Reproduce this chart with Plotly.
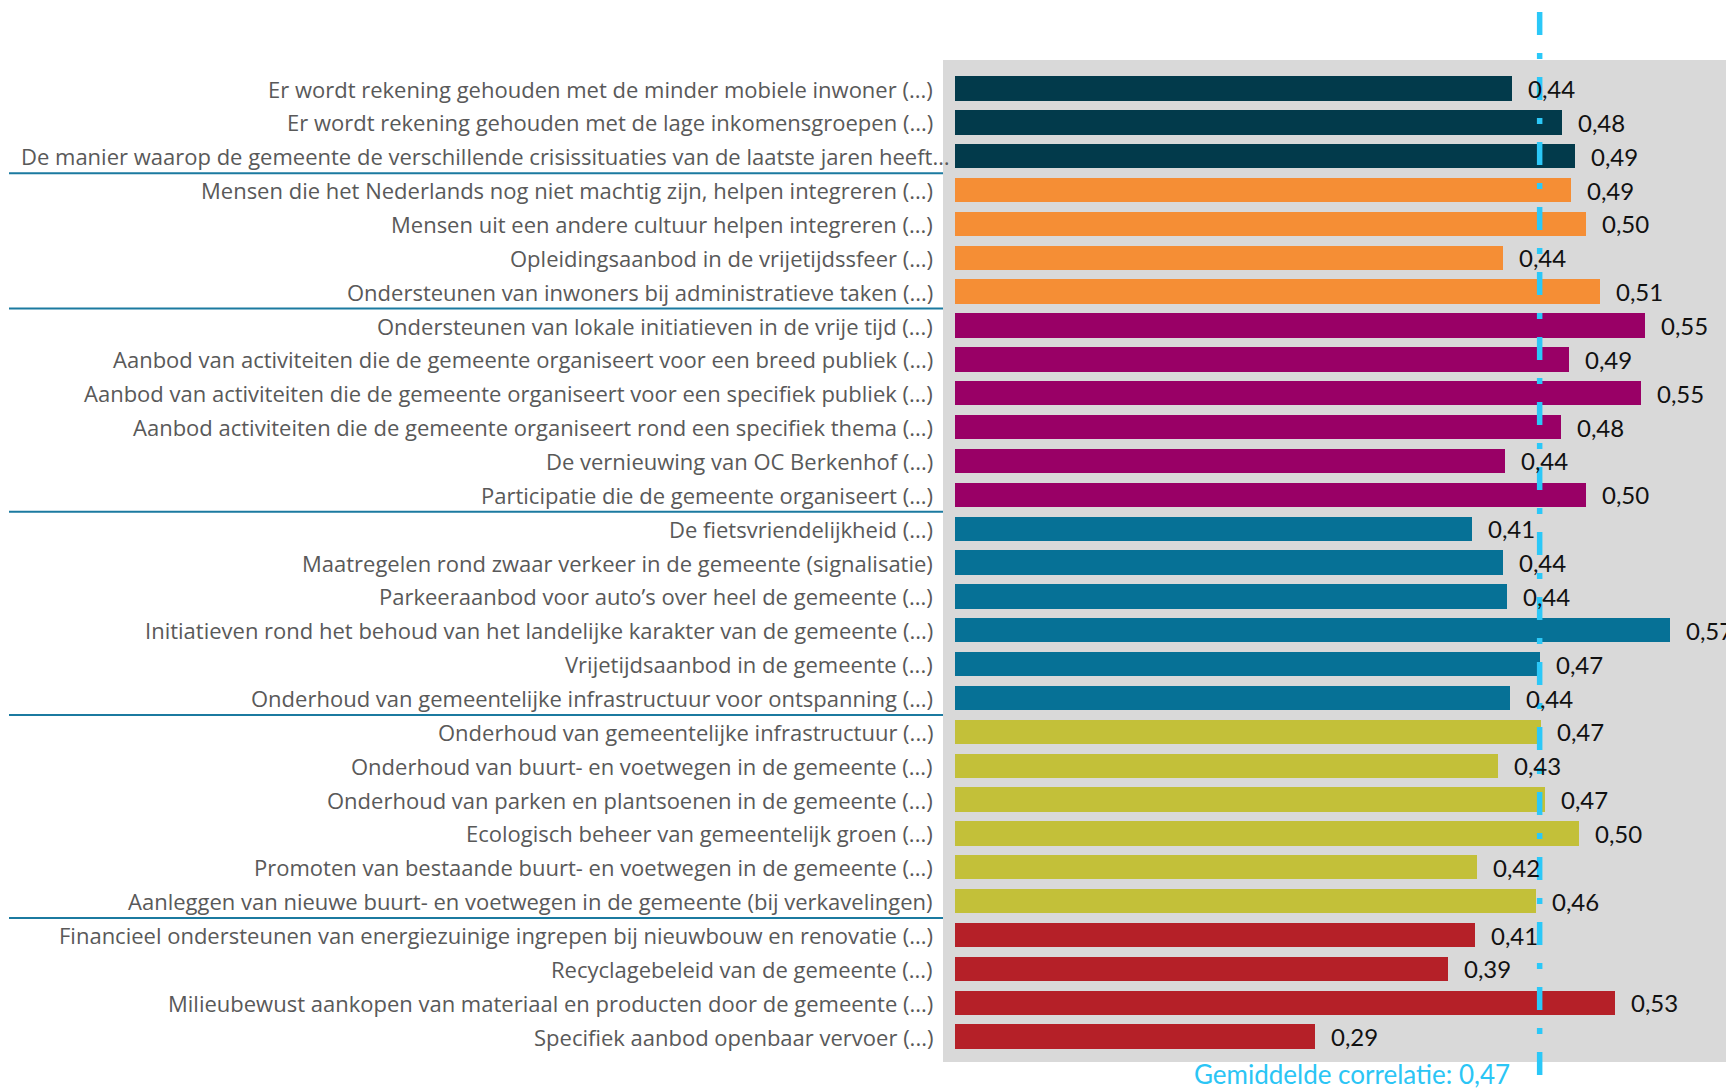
import plotly.graph_objects as go

labels = [
    "Er wordt rekening gehouden met de minder mobiele inwoner (...)",
    "Er wordt rekening gehouden met de lage inkomensgroepen (...)",
    "De manier waarop de gemeente de verschillende crisissituaties van de laatste jaren heeft…",
    "Mensen die het Nederlands nog niet machtig zijn, helpen integreren (...)",
    "Mensen uit een andere cultuur helpen integreren (...)",
    "Opleidingsaanbod in de vrijetijdssfeer (...)",
    "Ondersteunen van inwoners bij administratieve taken (...)",
    "Ondersteunen van lokale initiatieven in de vrije tijd (...)",
    "Aanbod van activiteiten die de gemeente organiseert voor een breed publiek (...)",
    "Aanbod van activiteiten die de gemeente organiseert voor een specifiek publiek (...)",
    "Aanbod activiteiten die de gemeente organiseert rond een specifiek thema (...)",
    "De vernieuwing van OC Berkenhof (...)",
    "Participatie die de gemeente organiseert (...)",
    "De fietsvriendelijkheid (...)",
    "Maatregelen rond zwaar verkeer in de gemeente (signalisatie)",
    "Parkeeraanbod voor auto’s over heel de gemeente (...)",
    "Initiatieven rond het behoud van het landelijke karakter van de gemeente (...)",
    "Vrijetijdsaanbod in de gemeente (...)",
    "Onderhoud van gemeentelijke infrastructuur voor ontspanning (...)",
    "Onderhoud van gemeentelijke infrastructuur (...)",
    "Onderhoud van buurt- en voetwegen in de gemeente (...)",
    "Onderhoud van parken en plantsoenen in de gemeente (...)",
    "Ecologisch beheer van gemeentelijk groen (...)",
    "Promoten van bestaande buurt- en voetwegen in de gemeente (...)",
    "Aanleggen van nieuwe buurt- en voetwegen in de gemeente (bij verkavelingen)",
    "Financieel ondersteunen van energiezuinige ingrepen bij nieuwbouw en renovatie (...)",
    "Recyclagebeleid van de gemeente (...)",
    "Milieubewust aankopen van materiaal en producten door de gemeente (...)",
    "Specifiek aanbod openbaar vervoer (...)",
]
values = [0.444, 0.484, 0.494, 0.491, 0.503, 0.437, 0.514, 0.550, 0.489, 0.547,
          0.483, 0.438, 0.503, 0.412, 0.437, 0.440, 0.570, 0.466, 0.442, 0.467,
          0.433, 0.470, 0.497, 0.416, 0.463, 0.414, 0.393, 0.526, 0.287]
groups = [0, 0, 0, 1, 1, 1, 1, 2, 2, 2, 2, 2, 2, 3, 3, 3, 3, 3, 3, 4, 4, 4, 4, 4, 4,
          5, 5, 5, 5]
group_colors = ["#023a4b", "#f58e35", "#990066", "#067196", "#c3c039", "#b52028"]
average = sum(values) / len(values)
average_label = "Gemiddelde correlatie: " + f"{average:.2f}".replace(".", ",")

OFF = 8  # page body margin
W, H = 1734 - OFF, 1092 - OFF
ML, MR, MT = 943 - OFF, 0, 60 - OFF
plot_bottom = 1062 - OFF
MB = H - plot_bottom
plot_w = W - ML - MR
plot_h = H - MT - MB

n = len(labels)
ypos = list(range(n))
y_top, y_bottom = -0.842, 28.75
SLOPE = 1255.0
x_range = [(943 - 955) / SLOPE, (1734 - 955) / SLOPE]

colors = [group_colors[g] for g in groups]


def py2paper(py):
    return (MT + plot_h - (py - OFF)) / plot_h


def px2paper(px):
    return ((px - OFF) - ML) / plot_w


fig = go.Figure()
fig.add_trace(go.Bar(
    x=values, y=ypos, orientation="h", width=0.72,
    marker=dict(color=colors, line=dict(width=0)),
    hoverinfo="skip",
))

# value labels
for v, y in zip(values, ypos):
    fig.add_annotation(
        x=v, y=y, xref="x", yref="y", text=f"{v:.2f}".replace(".", ","),
        showarrow=False, xanchor="left", yanchor="middle", xshift=14,
        font=dict(family="Lato", size=24, color="#111111"),
    )

# category labels
label_right = px2paper(934.5)
for lab, y in zip(labels, ypos):
    shift = 17 if len(lab) > 85 else 0
    fig.add_annotation(
        x=label_right, y=y, xref="paper", yref="y", text=lab,
        showarrow=False, xanchor="right", yanchor="middle", xshift=shift,
        font=dict(family="Open Sans", size=22, color="#595959"),
    )

# group separators
for i in range(1, n):
    if groups[i] != groups[i - 1]:
        yp = (y_bottom - (i - 0.5)) / (y_bottom - y_top)
        fig.add_shape(type="line", xref="paper", yref="paper",
                      x0=px2paper(9), x1=0, y0=yp, y1=yp,
                      line=dict(color="#1b7aa0", width=2))

# average line
fig.add_shape(type="line", xref="x", yref="paper",
              x0=average, x1=average,
              y0=py2paper(12), y1=py2paper(1100),
              line=dict(color="#2bc8f8", width=5.5, dash="23px,18px,6px,18px"),
              layer="above")

fig.add_annotation(
    x=px2paper(1512), y=py2paper(1074), yref="paper", xref="paper",
    text=average_label, showarrow=False,
    xanchor="right", yanchor="middle",
    font=dict(family="Lato", size=26, color="#2bc5f5"),
)

fig.update_layout(
    width=W, height=H,
    margin=dict(l=ML, r=MR, t=MT, b=MB, pad=0),
    paper_bgcolor="white", plot_bgcolor="#d9d9d9",
    showlegend=False, bargap=0,
    xaxis=dict(range=x_range, showgrid=False, zeroline=False, showticklabels=False,
               fixedrange=True),
    yaxis=dict(range=[y_bottom, y_top], showgrid=False, zeroline=False,
               showticklabels=False, ticks="", fixedrange=True),
)

fig.write_html("out.html")
